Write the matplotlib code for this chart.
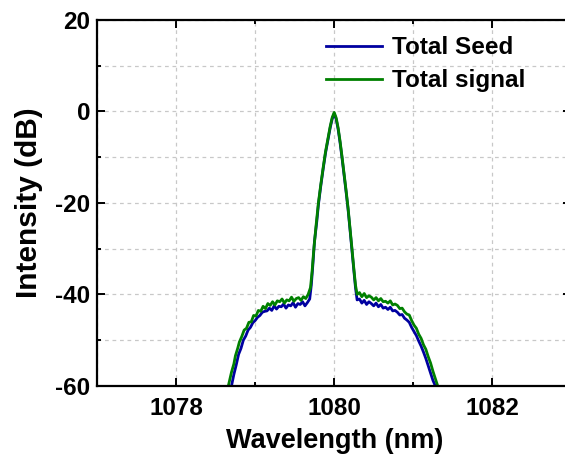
import matplotlib.pyplot as plt
from matplotlib.ticker import MultipleLocator

plt.rcParams['font.family'] = ['Liberation Sans', 'DejaVu Sans']
plt.rcParams['font.weight'] = 'bold'
plt.rcParams['axes.unicode_minus'] = False

# Total signal (green)
signal_wl = [1078.66, 1078.70, 1078.73, 1078.75, 1078.78, 1078.80, 1078.83, 1078.86, 1078.89, 1078.92,
             1078.95, 1078.98, 1079.01, 1079.04, 1079.07, 1079.10, 1079.13, 1079.16, 1079.19, 1079.22,
             1079.25, 1079.28, 1079.31, 1079.34, 1079.37, 1079.40, 1079.43, 1079.46, 1079.49, 1079.52,
             1079.55, 1079.58, 1079.61, 1079.64, 1079.67, 1079.70, 1079.72, 1079.74, 1079.77, 1079.80,
             1079.83, 1079.86, 1079.89, 1079.92, 1079.95, 1079.975, 1080.00, 1080.025, 1080.05, 1080.075,
             1080.10, 1080.125, 1080.15, 1080.175, 1080.20, 1080.225, 1080.25, 1080.27, 1080.29, 1080.32,
             1080.35, 1080.38, 1080.41, 1080.44, 1080.47, 1080.50, 1080.53, 1080.56, 1080.59, 1080.62,
             1080.65, 1080.68, 1080.71, 1080.74, 1080.77, 1080.80, 1080.83, 1080.86, 1080.89, 1080.92,
             1080.95, 1080.98, 1081.01, 1081.04, 1081.07, 1081.10, 1081.13, 1081.16, 1081.19, 1081.22,
             1081.25, 1081.28, 1081.31]
signal_db = [-60.0, -57.0, -55.2, -53.4, -51.7, -50.4, -49.2, -47.8, -47.4, -46.1,
             -46.0, -44.6, -44.7, -43.5, -43.7, -42.6, -43.1, -42.0, -42.4, -41.6,
             -42.3, -41.4, -41.6, -41.0, -41.9, -41.2, -41.4, -40.6, -41.5, -40.9,
             -40.7, -41.3, -40.5, -40.9, -40.0, -38.5, -35.0, -30.5, -25.0, -20.0,
             -16.0, -12.3, -8.8, -6.0, -3.2, -1.3, -0.2, -1.4, -3.6, -6.6,
             -10.0, -13.6, -17.2, -21.0, -25.5, -30.0, -34.6, -38.0, -40.0, -39.6,
             -40.5, -39.8, -40.7, -40.3, -40.6, -41.2, -40.7, -41.4, -40.9, -41.6,
             -41.5, -41.9, -41.4, -42.3, -42.1, -42.4, -43.1, -43.0, -43.8, -44.3,
             -44.5, -45.7, -46.7, -47.4, -48.7, -49.6, -51.0, -52.0, -53.6, -55.0,
             -56.8, -58.4, -60.0]

# Total seed (blue)
seed_wl = [1078.70, 1078.73, 1078.76, 1078.79, 1078.82, 1078.85, 1078.88, 1078.91, 1078.94, 1078.97,
           1079.00, 1079.03, 1079.06, 1079.09, 1079.12, 1079.15, 1079.18, 1079.21, 1079.24, 1079.27,
           1079.30, 1079.33, 1079.36, 1079.39, 1079.42, 1079.45, 1079.48, 1079.51, 1079.54, 1079.57,
           1079.60, 1079.63, 1079.66, 1079.69, 1079.71, 1079.73, 1079.75, 1079.78, 1079.80, 1079.83,
           1079.86, 1079.89, 1079.92, 1079.95, 1079.975, 1080.00, 1080.025, 1080.05, 1080.075, 1080.10,
           1080.125, 1080.15, 1080.175, 1080.20, 1080.225, 1080.25, 1080.27, 1080.29, 1080.32, 1080.35,
           1080.38, 1080.41, 1080.44, 1080.47, 1080.50, 1080.53, 1080.56, 1080.59, 1080.62, 1080.65,
           1080.68, 1080.71, 1080.74, 1080.77, 1080.80, 1080.83, 1080.86, 1080.89, 1080.92, 1080.95,
           1080.98, 1081.01, 1081.04, 1081.07, 1081.10, 1081.13, 1081.16, 1081.19, 1081.22, 1081.25,
           1081.28]
seed_db = [-60.0, -57.5, -55.4, -53.1, -51.8, -50.0, -49.1, -47.8, -47.2, -46.2,
           -45.7, -45.0, -44.6, -43.9, -43.7, -43.6, -43.0, -43.5, -42.5, -43.2,
           -42.6, -42.7, -42.1, -43.0, -42.3, -42.5, -41.8, -42.8, -42.0, -42.2,
           -41.6, -42.5, -41.8, -41.0, -38.0, -33.5, -28.5, -24.0, -20.4, -16.3,
           -12.6, -9.1, -6.3, -3.5, -1.6, -0.5, -1.7, -3.9, -6.9, -10.3,
           -13.9, -17.5, -21.3, -25.8, -30.4, -35.0, -38.6, -41.2, -41.0, -41.9,
           -41.3, -42.2, -41.6, -42.0, -42.5, -41.9, -42.7, -42.2, -43.0, -42.8,
           -43.3, -42.8, -43.6, -43.5, -43.9, -44.5, -44.4, -45.2, -45.6, -46.1,
           -47.2, -48.1, -49.0, -50.2, -51.3, -52.6, -54.0, -55.6, -57.2, -58.8,
           -60.0]

fig = plt.figure(figsize=(5.65, 4.54), dpi=100)
ax = fig.add_axes([0.172, 0.150, 0.839, 0.806])

ax.plot(seed_wl, seed_db, color='#0000a0', lw=2.0, label='Total Seed')
ax.plot(signal_wl, signal_db, color='#008000', lw=2.0, label='Total signal')

ax.set_xlim(1077, 1083)
ax.set_ylim(-60, 20)
ax.xaxis.set_major_locator(MultipleLocator(2))
ax.xaxis.set_minor_locator(MultipleLocator(1))
ax.yaxis.set_major_locator(MultipleLocator(20))
ax.yaxis.set_minor_locator(MultipleLocator(10))
ax.grid(True, which='both', color='#c8c8c8', ls=(0, (3, 3)), lw=0.9)
ax.set_axisbelow(True)

ax.tick_params(which='both', direction='in', top=True, right=True, width=1.4, labelsize=17.5)
ax.tick_params(axis='x', which='major', length=6, pad=8)
ax.tick_params(axis='y', which='major', length=6, pad=5)
ax.tick_params(which='minor', length=3)
for s in ax.spines.values():
    s.set_linewidth(1.6)

ax.set_xlabel('Wavelength (nm)', fontsize=19.5, fontweight='bold', labelpad=6)
ax.set_ylabel('Intensity (dB)', fontsize=21.5, fontweight='bold', labelpad=9)

ax.legend(loc='upper left', bbox_to_anchor=(0.437, 1.015), frameon=False, fontsize=17.5,
          handlelength=2.3, handletextpad=0.4, labelspacing=0.4)

fig.savefig('out.png', dpi=100)
